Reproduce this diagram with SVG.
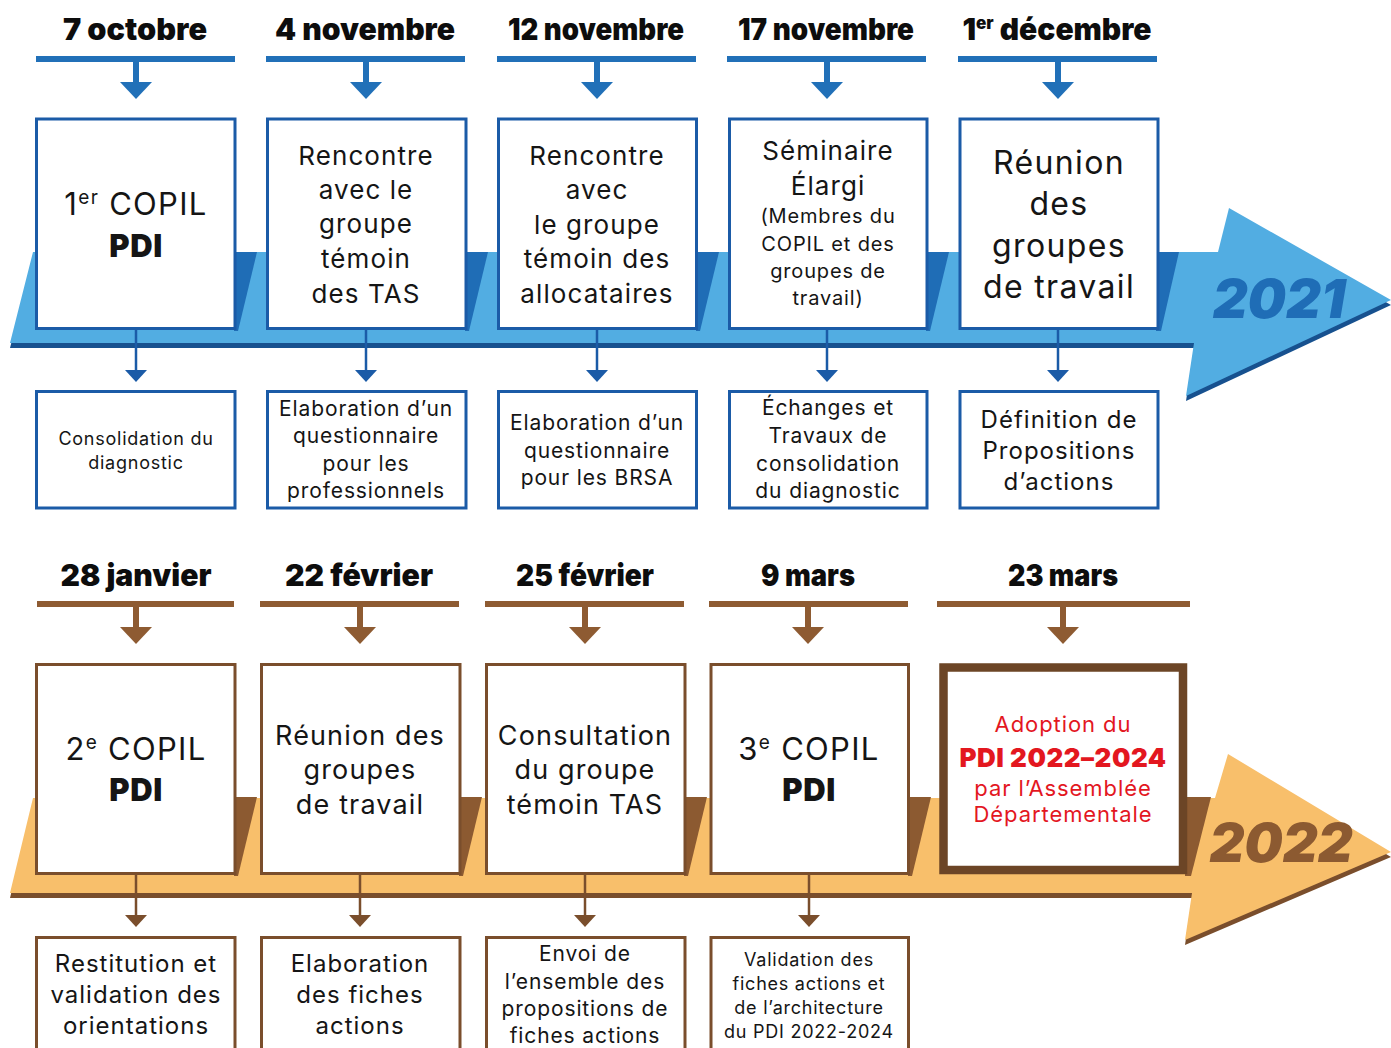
<svg xmlns="http://www.w3.org/2000/svg" width="1391" height="1048" viewBox="0 0 1391 1048">
<defs>
<style>
text{font-family:Inter,"Noto Sans","Liberation Sans",sans-serif;text-anchor:middle;fill:#151515;letter-spacing:0.042em}
.date{font-size:30px;font-weight:900;fill:#0d0d0d;letter-spacing:0}
.b{font-weight:900;letter-spacing:0.02em}
.red{fill:#e3171f}
.year{font-size:54px;font-weight:900;font-style:italic;letter-spacing:0}
.bbox{fill:#fff;stroke:#1b5ba7;stroke-width:3}
.obox{fill:#fff;stroke:#7a4e2c;stroke-width:3}
.bl{stroke:#2170b8;stroke-width:6;fill:none}
.ol{stroke:#8e5b32;stroke-width:6;fill:none}
.bs{stroke:#1b5ba7;stroke-width:2.5;fill:none}
.os{stroke:#7a4e2c;stroke-width:2.5;fill:none}
</style>
<marker id="hb" markerUnits="userSpaceOnUse" markerWidth="18" markerHeight="32" viewBox="0 0 18 32" refX="0" refY="16" orient="auto"><path d="M0,0 L17,16 L0,32 Z" fill="#2170b8"/></marker>
<marker id="ho" markerUnits="userSpaceOnUse" markerWidth="18" markerHeight="32" viewBox="0 0 18 32" refX="0" refY="16" orient="auto"><path d="M0,0 L17,16 L0,32 Z" fill="#8e5b32"/></marker>
<marker id="sb" markerUnits="userSpaceOnUse" markerWidth="13" markerHeight="22" viewBox="0 0 13 22" refX="0" refY="11" orient="auto"><path d="M0,0 L12,11 L0,22 Z" fill="#1b5ba7"/></marker>
<marker id="so" markerUnits="userSpaceOnUse" markerWidth="13" markerHeight="22" viewBox="0 0 13 22" refX="0" refY="11" orient="auto"><path d="M0,0 L12,11 L0,22 Z" fill="#7a4e2c"/></marker>
</defs>
<rect width="1391" height="1048" fill="#fff"/>

<!-- timeline bands -->
<g id="band-2021">
<polygon points="33,257 1218,257 1229,213 1391,305 1186,401 1194,348 10,348" fill="#17518f"/>
<polygon points="33,252 1218,252 1229,208 1391,300 1186,396 1194,343 10,343" fill="#52ade2"/>
<polygon points="234,252 257,252 238,331 234,331" fill="#1f6db6"/>
<polygon points="465,252 488,252 469,331 465,331" fill="#1f6db6"/>
<polygon points="696,252 719,252 700,331 696,331" fill="#1f6db6"/>
<polygon points="926,252 949,252 930,331 926,331" fill="#1f6db6"/>
<polygon points="1156,252 1179,252 1161,331 1156,331" fill="#1f6db6"/>
<text class="year" x="1279" y="318" style="fill:#1f6db6">2021</text>
</g>
<g id="band-2022">
<polygon points="33,803 1215,803 1228,759 1391,857 1185,945 1192,898 10,898" fill="#7a4e2c"/>
<polygon points="33,798 1215,798 1228,754 1391,852 1185,940 1192,893 10,893" fill="#f8bf6b"/>
<polygon points="234,797 257,797 238,876 234,876" fill="#8c5a31"/>
<polygon points="459,797 482,797 463,876 459,876" fill="#8c5a31"/>
<polygon points="684,797 707,797 688,876 684,876" fill="#8c5a31"/>
<polygon points="908,797 931,797 912,876 908,876" fill="#8c5a31"/>
<polygon points="1185,797 1211,797 1191,876 1185,876" fill="#8c5a31"/>
<text class="year" x="1281" y="862" style="fill:#8c5a31">2022</text>
</g>

<!-- connectors -->
<g id="connectors">
<path class="bl" d="M36,59 H235 M266,59 H465 M497,59 H696 M727,59 H926 M958,59 H1157"/>
<path class="bl" d="M136,61 V82" marker-end="url(#hb)"/>
<path class="bl" d="M366,61 V82" marker-end="url(#hb)"/>
<path class="bl" d="M597,61 V82" marker-end="url(#hb)"/>
<path class="bl" d="M827,61 V82" marker-end="url(#hb)"/>
<path class="bl" d="M1058,61 V82" marker-end="url(#hb)"/>
<path class="bs" d="M136,330 V370" marker-end="url(#sb)"/>
<path class="bs" d="M366,330 V370" marker-end="url(#sb)"/>
<path class="bs" d="M597,330 V370" marker-end="url(#sb)"/>
<path class="bs" d="M827,330 V370" marker-end="url(#sb)"/>
<path class="bs" d="M1058,330 V370" marker-end="url(#sb)"/>
<path class="ol" d="M37,604 H234 M260,604 H459 M485,604 H684 M709,604 H908 M937,604 H1190"/>
<path class="ol" d="M136,606 V627" marker-end="url(#ho)"/>
<path class="ol" d="M360,606 V627" marker-end="url(#ho)"/>
<path class="ol" d="M585,606 V627" marker-end="url(#ho)"/>
<path class="ol" d="M808,606 V627" marker-end="url(#ho)"/>
<path class="ol" d="M1063,606 V627" marker-end="url(#ho)"/>
<path class="os" d="M136,875 V915" marker-end="url(#so)"/>
<path class="os" d="M360,875 V915" marker-end="url(#so)"/>
<path class="os" d="M585,875 V915" marker-end="url(#so)"/>
<path class="os" d="M809,875 V915" marker-end="url(#so)"/>
</g>

<!-- dates -->
<g id="dates">
<text class="date" x="135" y="40" textLength="144" lengthAdjust="spacingAndGlyphs">7 octobre</text>
<text class="date" x="365" y="40" textLength="180" lengthAdjust="spacingAndGlyphs">4 novembre</text>
<text class="date" x="596" y="40" textLength="176" lengthAdjust="spacingAndGlyphs">12 novembre</text>
<text class="date" x="826" y="40" textLength="176" lengthAdjust="spacingAndGlyphs">17 novembre</text>
<text class="date" x="1057" y="40" font-size="28">1<tspan font-size="17" dy="-11">er</tspan><tspan dy="11"> décembre</tspan></text>
<text class="date" x="136" y="586" textLength="151" lengthAdjust="spacingAndGlyphs">28 janvier</text>
<text class="date" x="359" y="586" textLength="148" lengthAdjust="spacingAndGlyphs">22 février</text>
<text class="date" x="585" y="586" textLength="138" lengthAdjust="spacingAndGlyphs">25 février</text>
<text class="date" x="808" y="586" textLength="94" lengthAdjust="spacingAndGlyphs">9 mars</text>
<text class="date" x="1063" y="586" textLength="110" lengthAdjust="spacingAndGlyphs">23 mars</text>
</g>

<!-- 2021 events -->
<g id="n-copil1"><rect class="bbox" x="36.5" y="119" width="198.5" height="209.5"/>
<text x="136" y="215" font-size="31">1<tspan font-size="19" dy="-11">er</tspan><tspan dy="11"> COPIL</tspan></text>
<text class="b" x="136" y="257" font-size="31">PDI</text></g>
<g id="n-rencontre-tas"><rect class="bbox" x="267.5" y="119" width="198.5" height="209.5"/>
<text x="366" y="165" font-size="26">Rencontre</text><text x="366" y="199" font-size="26">avec le</text><text x="366" y="233" font-size="26">groupe</text><text x="366" y="268" font-size="26">témoin</text><text x="366" y="303" font-size="26">des TAS</text></g>
<g id="n-rencontre-alloc"><rect class="bbox" x="498.5" y="119" width="198" height="209.5"/>
<text x="597" y="165" font-size="26">Rencontre</text><text x="597" y="199" font-size="26">avec</text><text x="597" y="234" font-size="26">le groupe</text><text x="597" y="268" font-size="26">témoin des</text><text x="597" y="303" font-size="26">allocataires</text></g>
<g id="n-seminaire"><rect class="bbox" x="729.5" y="119" width="197.5" height="209.5"/>
<text x="828" y="160" font-size="26">Séminaire</text><text x="828" y="195" font-size="26">Élargi</text>
<text x="828" y="223" font-size="20">(Membres du</text><text x="828" y="251" font-size="20">COPIL et des</text><text x="828" y="278" font-size="20">groupes de</text><text x="828" y="305" font-size="20">travail)</text></g>
<g id="n-reunion-gt"><rect class="bbox" x="960" y="119" width="198" height="209.5"/>
<text x="1059" y="174" font-size="32">Réunion</text><text x="1059" y="215" font-size="32">des</text><text x="1059" y="257" font-size="32">groupes</text><text x="1059" y="298" font-size="32">de travail</text></g>

<g id="n-consolidation"><rect class="bbox" x="36.5" y="391.5" width="198.5" height="116.5"/>
<text x="136" y="445" font-size="18">Consolidation du</text><text x="136" y="469" font-size="18">diagnostic</text></g>
<g id="n-quest-pro"><rect class="bbox" x="267.5" y="391.5" width="198.5" height="116.5"/>
<text x="366" y="416" font-size="21">Elaboration d’un</text><text x="366" y="443" font-size="21">questionnaire</text><text x="366" y="471" font-size="21">pour les</text><text x="366" y="498" font-size="21">professionnels</text></g>
<g id="n-quest-brsa"><rect class="bbox" x="498.5" y="391.5" width="198" height="116.5"/>
<text x="597" y="430" font-size="21">Elaboration d’un</text><text x="597" y="458" font-size="21">questionnaire</text><text x="597" y="485" font-size="21">pour les BRSA</text></g>
<g id="n-echanges"><rect class="bbox" x="729.5" y="391.5" width="197.5" height="116.5"/>
<text x="828" y="415" font-size="21">Échanges et</text><text x="828" y="443" font-size="21">Travaux de</text><text x="828" y="471" font-size="21">consolidation</text><text x="828" y="498" font-size="21">du diagnostic</text></g>
<g id="n-definition"><rect class="bbox" x="960" y="391.5" width="198" height="116.5"/>
<text x="1059" y="428" font-size="24">Définition de</text><text x="1059" y="459" font-size="24">Propositions</text><text x="1059" y="490" font-size="24">d’actions</text></g>

<!-- 2022 events -->
<g id="n-copil2"><rect class="obox" x="36.5" y="664.5" width="198.5" height="209"/>
<text x="136" y="760" font-size="31">2<tspan font-size="19" dy="-11">e</tspan><tspan dy="11"> COPIL</tspan></text>
<text class="b" x="136" y="801" font-size="31">PDI</text></g>
<g id="n-reunion-gt2"><rect class="obox" x="261.5" y="664.5" width="198.5" height="209"/>
<text x="360" y="745" font-size="27">Réunion des</text><text x="360" y="779" font-size="27">groupes</text><text x="360" y="814" font-size="27">de travail</text></g>
<g id="n-consultation"><rect class="obox" x="486.5" y="664.5" width="198.5" height="209"/>
<text x="585" y="745" font-size="27">Consultation</text><text x="585" y="779" font-size="27">du groupe</text><text x="585" y="814" font-size="27">témoin TAS</text></g>
<g id="n-copil3"><rect class="obox" x="711" y="664.5" width="197.5" height="209"/>
<text x="809" y="760" font-size="31">3<tspan font-size="19" dy="-11">e</tspan><tspan dy="11"> COPIL</tspan></text>
<text class="b" x="809" y="801" font-size="31">PDI</text></g>
<g id="n-adoption"><rect x="943.5" y="667.5" width="239.5" height="202.5" fill="#fff" stroke="#6c4526" stroke-width="8.5"/>
<text class="red" x="1063" y="732" font-size="22">Adoption du</text>
<text class="red b" x="1063" y="767" font-size="26">PDI 2022–2024</text>
<text class="red" x="1063" y="796" font-size="22">par l’Assemblée</text>
<text class="red" x="1063" y="822" font-size="22">Départementale</text></g>

<g id="n-restitution"><rect class="obox" x="36.5" y="937.5" width="198.5" height="150"/>
<text x="136" y="972" font-size="24">Restitution et</text><text x="136" y="1003" font-size="24">validation des</text><text x="136" y="1034" font-size="24">orientations</text></g>
<g id="n-fiches"><rect class="obox" x="261.5" y="937.5" width="198.5" height="150"/>
<text x="360" y="972" font-size="24">Elaboration</text><text x="360" y="1003" font-size="24">des fiches</text><text x="360" y="1034" font-size="24">actions</text></g>
<g id="n-envoi"><rect class="obox" x="486.5" y="937.5" width="198.5" height="150"/>
<text x="585" y="961" font-size="21">Envoi de</text><text x="585" y="989" font-size="21">l’ensemble des</text><text x="585" y="1016" font-size="21">propositions de</text><text x="585" y="1043" font-size="21">fiches actions</text></g>
<g id="n-validation"><rect class="obox" x="711" y="937.5" width="197.5" height="150"/>
<text x="809" y="966" font-size="18">Validation des</text><text x="809" y="990" font-size="18">fiches actions et</text><text x="809" y="1014" font-size="18">de l’architecture</text><text x="809" y="1038" font-size="18">du PDI 2022-2024</text></g>
</svg>
